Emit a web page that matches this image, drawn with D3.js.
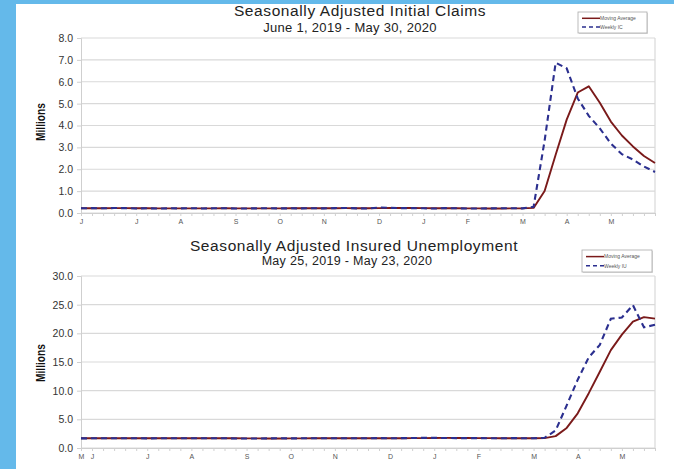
<!DOCTYPE html>
<html>
<head>
<meta charset="utf-8">
<script src="https://cdn.jsdelivr.net/npm/d3@7"></script>
<style>
html,body{margin:0;padding:0;background:#fff;}
svg{display:block;}
</style>
</head>
<body>
<svg id="chart" width="674" height="469"></svg>
<script>
// ---------- DATA ----------
// Top chart: weeks ending June 1, 2019 .. May 30, 2020 (millions)
const icWeeks = d3.range(53).map(i => d3.timeDay.offset(new Date(2019, 5, 1), i * 7));
const icWeekly = [
  0.218,0.222,0.216,0.227,0.221,0.209,0.216,0.206,0.215,0.209,
  0.220,0.209,0.215,0.217,0.204,0.208,0.213,0.219,0.210,0.214,
  0.212,0.218,0.211,0.225,0.227,0.213,0.203,0.252,0.234,0.222,
  0.222,0.214,0.204,0.223,0.216,0.202,0.205,0.211,0.219,0.217,
  0.211,0.282,3.307,6.867,6.615,5.237,4.442,3.867,3.176,2.687,
  2.446,2.123,1.877
];
const icMovingAvg = [
  0.216,0.218,0.217,0.221,0.222,0.218,0.218,0.213,0.212,0.212,
  0.213,0.213,0.213,0.215,0.211,0.211,0.211,0.211,0.213,0.214,
  0.214,0.214,0.214,0.217,0.221,0.219,0.217,0.224,0.226,0.228,
  0.233,0.223,0.216,0.216,0.214,0.211,0.212,0.209,0.209,0.213,
  0.212,0.232,1.004,2.667,4.268,5.507,5.790,5.040,4.181,3.543,
  3.044,2.608,2.283
];
const icTicks = [0,1,2,3,4,5,6,7,8];

// Bottom chart: weeks ending May 25, 2019 .. May 23, 2020 (millions)
const iuWeeks = d3.range(53).map(i => d3.timeDay.offset(new Date(2019, 4, 25), i * 7));
const iuWeekly = [
  1.68,1.69,1.70,1.69,1.69,1.70,1.68,1.70,1.69,1.70,
  1.70,1.70,1.70,1.70,1.67,1.66,1.65,1.68,1.69,1.68,
  1.69,1.70,1.69,1.69,1.70,1.70,1.70,1.72,1.70,1.72,
  1.74,1.77,1.76,1.75,1.73,1.72,1.72,1.71,1.70,1.72,
  1.71,1.70,1.78,3.059,7.446,11.914,15.819,17.992,22.548,22.770,
  24.912,21.052,21.487
];
const iuMovingAvg = [
  1.69,1.69,1.69,1.69,1.69,1.70,1.69,1.69,1.69,1.69,
  1.70,1.70,1.70,1.70,1.69,1.68,1.67,1.67,1.67,1.68,
  1.68,1.69,1.69,1.69,1.69,1.70,1.70,1.71,1.71,1.71,
  1.72,1.73,1.75,1.76,1.75,1.74,1.73,1.72,1.71,1.71,
  1.71,1.71,1.73,2.07,3.50,6.05,9.56,13.29,17.07,19.78,
  22.06,22.82,22.56
];
const iuTicks = [0,5,10,15,20,25,30];

const monthLetters = ["J","F","M","A","M","J","J","A","S","O","N","D"];

// ---------- DRAW ----------
const svg = d3.select("#chart");
const BLUE = "#64b9ea";
const RED = "#7a1a1a";
const NAVY = "#2b2f8f";
const FONT = "'Liberation Sans', Arial, sans-serif";

svg.append("rect").attr("width", 674).attr("height", 469).attr("fill", "#fff");
svg.append("rect").attr("x", 0).attr("y", 0).attr("width", 16).attr("height", 469).attr("fill", BLUE);
svg.append("rect").attr("x", 0).attr("y", 0).attr("width", 674).attr("height", 4).attr("fill", BLUE);

function panel(cfg) {
  const {weeks, weekly, ma, ticks, top, bottom, left, right, title, subtitle, titleX, titleY, subX, subY, subSize, legend, yLabelY, weeklyName} = cfg;
  const x = d3.scalePoint().domain(weeks.map(d => +d)).range([left, right]);
  const y = d3.scaleLinear().domain([0, d3.max(ticks)]).range([bottom, top]);
  const g = svg.append("g");

  // gridlines
  g.append("g").selectAll("line").data(ticks).join("line")
    .attr("x1", left).attr("x2", right)
    .attr("y1", d => y(d)).attr("y2", d => y(d))
    .attr("stroke", "#d9d9d9").attr("stroke-width", 1.2);
  // right border
  g.append("line").attr("x1", right).attr("x2", right).attr("y1", top).attr("y2", bottom)
    .attr("stroke", "#d9d9d9").attr("stroke-width", 1.2);

  // y axis
  const ya = g.append("g").attr("transform", `translate(${left},0)`)
    .call(d3.axisLeft(y).tickValues(ticks).tickSize(4).tickPadding(4).tickFormat(d3.format(".1f")));
  ya.select(".domain").attr("stroke", "#cfcfcf");
  ya.selectAll(".tick line").attr("stroke", "#cfcfcf");
  ya.selectAll("text").attr("font-family", FONT).attr("font-size", 10.5).attr("fill", "#333");

  // x axis
  const xa = g.append("g").attr("transform", `translate(0,${bottom})`)
    .call(d3.axisBottom(x).tickValues(weeks.map(d => +d)).tickSize(3).tickPadding(3)
      .tickFormat((d, i) => {
        const dt = new Date(d);
        if (i === 0 || dt.getMonth() !== weeks[i - 1].getMonth()) return monthLetters[dt.getMonth()];
        return "";
      }));
  xa.select(".domain").attr("stroke", "#cfcfcf");
  xa.selectAll(".tick line").attr("stroke", "#d0d0d0");
  xa.selectAll("text").attr("font-family", FONT).attr("font-size", 7).attr("fill", "#555");

  // lines
  const line = d3.line().x((d, i) => x(+weeks[i])).y(d => y(d));
  g.append("path").datum(ma).attr("d", line).attr("fill", "none")
    .attr("stroke", RED).attr("stroke-width", 1.9).attr("stroke-linejoin", "round");
  g.append("path").datum(weekly).attr("d", line).attr("fill", "none")
    .attr("stroke", NAVY).attr("stroke-width", 2.1).attr("stroke-dasharray", "6,4");

  // titles
  g.append("text").attr("x", titleX).attr("y", titleY).attr("text-anchor", "middle")
    .attr("font-family", FONT).attr("font-size", 15.5).attr("letter-spacing", 0.6)
    .attr("fill", "#222").text(title);
  g.append("text").attr("x", subX).attr("y", subY).attr("text-anchor", "middle")
    .attr("font-family", FONT).attr("font-size", subSize).attr("letter-spacing", 0.3)
    .attr("fill", "#222").text(subtitle);

  // y label
  g.append("text").attr("transform", `translate(45,${yLabelY}) rotate(-90)`).attr("text-anchor", "middle")
    .attr("font-family", FONT).attr("textLength", 38).attr("lengthAdjust", "spacingAndGlyphs")
    .attr("font-weight", "bold").attr("font-size", 13).attr("fill", "#111").text("Millions");

  // legend
  const lg = g.append("g").attr("transform", `translate(${legend.x},${legend.y})`);
  lg.append("rect").attr("x", 1).attr("y", 1).attr("width", legend.w).attr("height", legend.h).attr("fill", "#ddd");
  lg.append("rect").attr("width", legend.w).attr("height", legend.h).attr("fill", "#fff").attr("stroke", "#aaa").attr("stroke-width", 0.8);
  const items = [{name: "Moving Average", c: RED, dash: null}, {name: weeklyName, c: NAVY, dash: "4,3"}];
  items.forEach((it, i) => {
    const yy = legend.h * (i === 0 ? 0.3 : 0.72);
    lg.append("line").attr("x1", 4).attr("x2", 22).attr("y1", yy).attr("y2", yy)
      .attr("stroke", it.c).attr("stroke-width", 1.5).attr("stroke-dasharray", it.dash);
    lg.append("text").attr("x", 22).attr("y", yy + 1.8).attr("font-family", FONT)
      .attr("font-size", 5).attr("fill", "#555").text(it.name);
  });
}

panel({
  weeks: icWeeks, weekly: icWeekly, ma: icMovingAvg, ticks: icTicks,
  top: 38, bottom: 213, left: 81, right: 655,
  title: "Seasonally Adjusted Initial Claims", subtitle: "June 1, 2019 - May 30, 2020",
  titleX: 360, titleY: 16, subX: 350, subY: 32, subSize: 13,
  legend: {x: 578, y: 12, w: 69, h: 21}, yLabelY: 122, weeklyName: "Weekly IC"
});

panel({
  weeks: iuWeeks, weekly: iuWeekly, ma: iuMovingAvg, ticks: iuTicks,
  top: 276, bottom: 448, left: 81, right: 655,
  title: "Seasonally Adjusted Insured Unemployment", subtitle: "May 25, 2019 - May 23, 2020",
  titleX: 354, titleY: 251, subX: 347, subY: 265, subSize: 12.5,
  legend: {x: 582, y: 250, w: 70, h: 22}, yLabelY: 363, weeklyName: "Weekly IU"
});
</script>
</body>
</html>
